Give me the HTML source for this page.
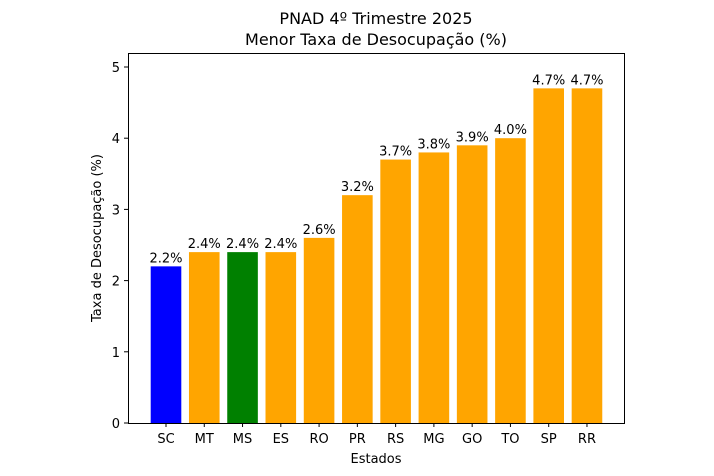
<!DOCTYPE html>
<html><head><meta charset="utf-8"><style>body{margin:0;background:#fff}svg{display:block}text{font-family:"DejaVu Sans","Liberation Sans",sans-serif;fill:#000}</style></head>
<body>
<svg width="714" height="476" xmlns="http://www.w3.org/2000/svg">
<text x="376" y="24" font-size="16" text-anchor="middle">PNAD 4º Trimestre 2025</text>
<text x="376" y="45" font-size="16" text-anchor="middle">Menor Taxa de Desocupação (%)</text>
<rect x="150.7" y="266.36" width="30.6" height="156.64" fill="#0000ff"/>
<rect x="188.97" y="252.12" width="30.6" height="170.88" fill="orange"/>
<rect x="227.24" y="252.12" width="30.6" height="170.88" fill="#008000"/>
<rect x="265.51" y="252.12" width="30.6" height="170.88" fill="orange"/>
<rect x="303.78" y="237.88" width="30.6" height="185.12" fill="orange"/>
<rect x="342.05" y="195.16" width="30.6" height="227.84" fill="orange"/>
<rect x="380.32" y="159.56" width="30.6" height="263.44" fill="orange"/>
<rect x="418.59" y="152.44" width="30.6" height="270.56" fill="orange"/>
<rect x="456.86" y="145.32" width="30.6" height="277.68" fill="orange"/>
<rect x="495.13" y="138.2" width="30.6" height="284.8" fill="orange"/>
<rect x="533.4" y="88.36" width="30.6" height="334.64" fill="orange"/>
<rect x="571.67" y="88.36" width="30.6" height="334.64" fill="orange"/>
<g font-size="13" text-anchor="middle">
<text x="166" y="262.4">2.2%</text>
<text x="204.27" y="248.1">2.4%</text>
<text x="242.54" y="248.1">2.4%</text>
<text x="280.81" y="248.1">2.4%</text>
<text x="319.08" y="233.9">2.6%</text>
<text x="357.35" y="191.2">3.2%</text>
<text x="395.62" y="155.6">3.7%</text>
<text x="433.89" y="148.4">3.8%</text>
<text x="472.16" y="141.3">3.9%</text>
<text x="510.43" y="134.2">4.0%</text>
<text x="548.7" y="84.4">4.7%</text>
<text x="586.97" y="84.4">4.7%</text>
<text x="166" y="443">SC</text>
<text x="204.27" y="443">MT</text>
<text x="242.54" y="443">MS</text>
<text x="280.81" y="443">ES</text>
<text x="319.08" y="443">RO</text>
<text x="357.35" y="443">PR</text>
<text x="395.62" y="443">RS</text>
<text x="433.89" y="443">MG</text>
<text x="472.16" y="443">GO</text>
<text x="510.43" y="443">TO</text>
<text x="548.7" y="443">SP</text>
<text x="586.97" y="443">RR</text>
</g>
<g stroke="#000">
<line x1="166" x2="166" y1="423" y2="427"/><line x1="204.27" x2="204.27" y1="423" y2="427"/><line x1="242.54" x2="242.54" y1="423" y2="427"/><line x1="280.81" x2="280.81" y1="423" y2="427"/><line x1="319.08" x2="319.08" y1="423" y2="427"/><line x1="357.35" x2="357.35" y1="423" y2="427"/><line x1="395.62" x2="395.62" y1="423" y2="427"/><line x1="433.89" x2="433.89" y1="423" y2="427"/><line x1="472.16" x2="472.16" y1="423" y2="427"/><line x1="510.43" x2="510.43" y1="423" y2="427"/><line x1="548.7" x2="548.7" y1="423" y2="427"/><line x1="586.97" x2="586.97" y1="423" y2="427"/>
</g>
<rect x="128.5" y="53.5" width="496" height="370" fill="none" stroke="#000" stroke-width="1"/>
<g font-size="13" text-anchor="end">
<line x1="124" x2="128" y1="423" y2="423" stroke="#000"/><text x="120" y="428">0</text>
<line x1="124" x2="128" y1="351.8" y2="351.8" stroke="#000"/><text x="120" y="356.8">1</text>
<line x1="124" x2="128" y1="280.6" y2="280.6" stroke="#000"/><text x="120" y="285.6">2</text>
<line x1="124" x2="128" y1="209.4" y2="209.4" stroke="#000"/><text x="120" y="214.4">3</text>
<line x1="124" x2="128" y1="138.2" y2="138.2" stroke="#000"/><text x="120" y="143.2">4</text>
<line x1="124" x2="128" y1="67" y2="67" stroke="#000"/><text x="120" y="72">5</text>
</g>
<text transform="translate(101,238) rotate(-90)" font-size="13" text-anchor="middle">Taxa de Desocupação (%)</text>
<text x="376" y="463" font-size="13" text-anchor="middle">Estados</text>
</svg>
</body></html>
